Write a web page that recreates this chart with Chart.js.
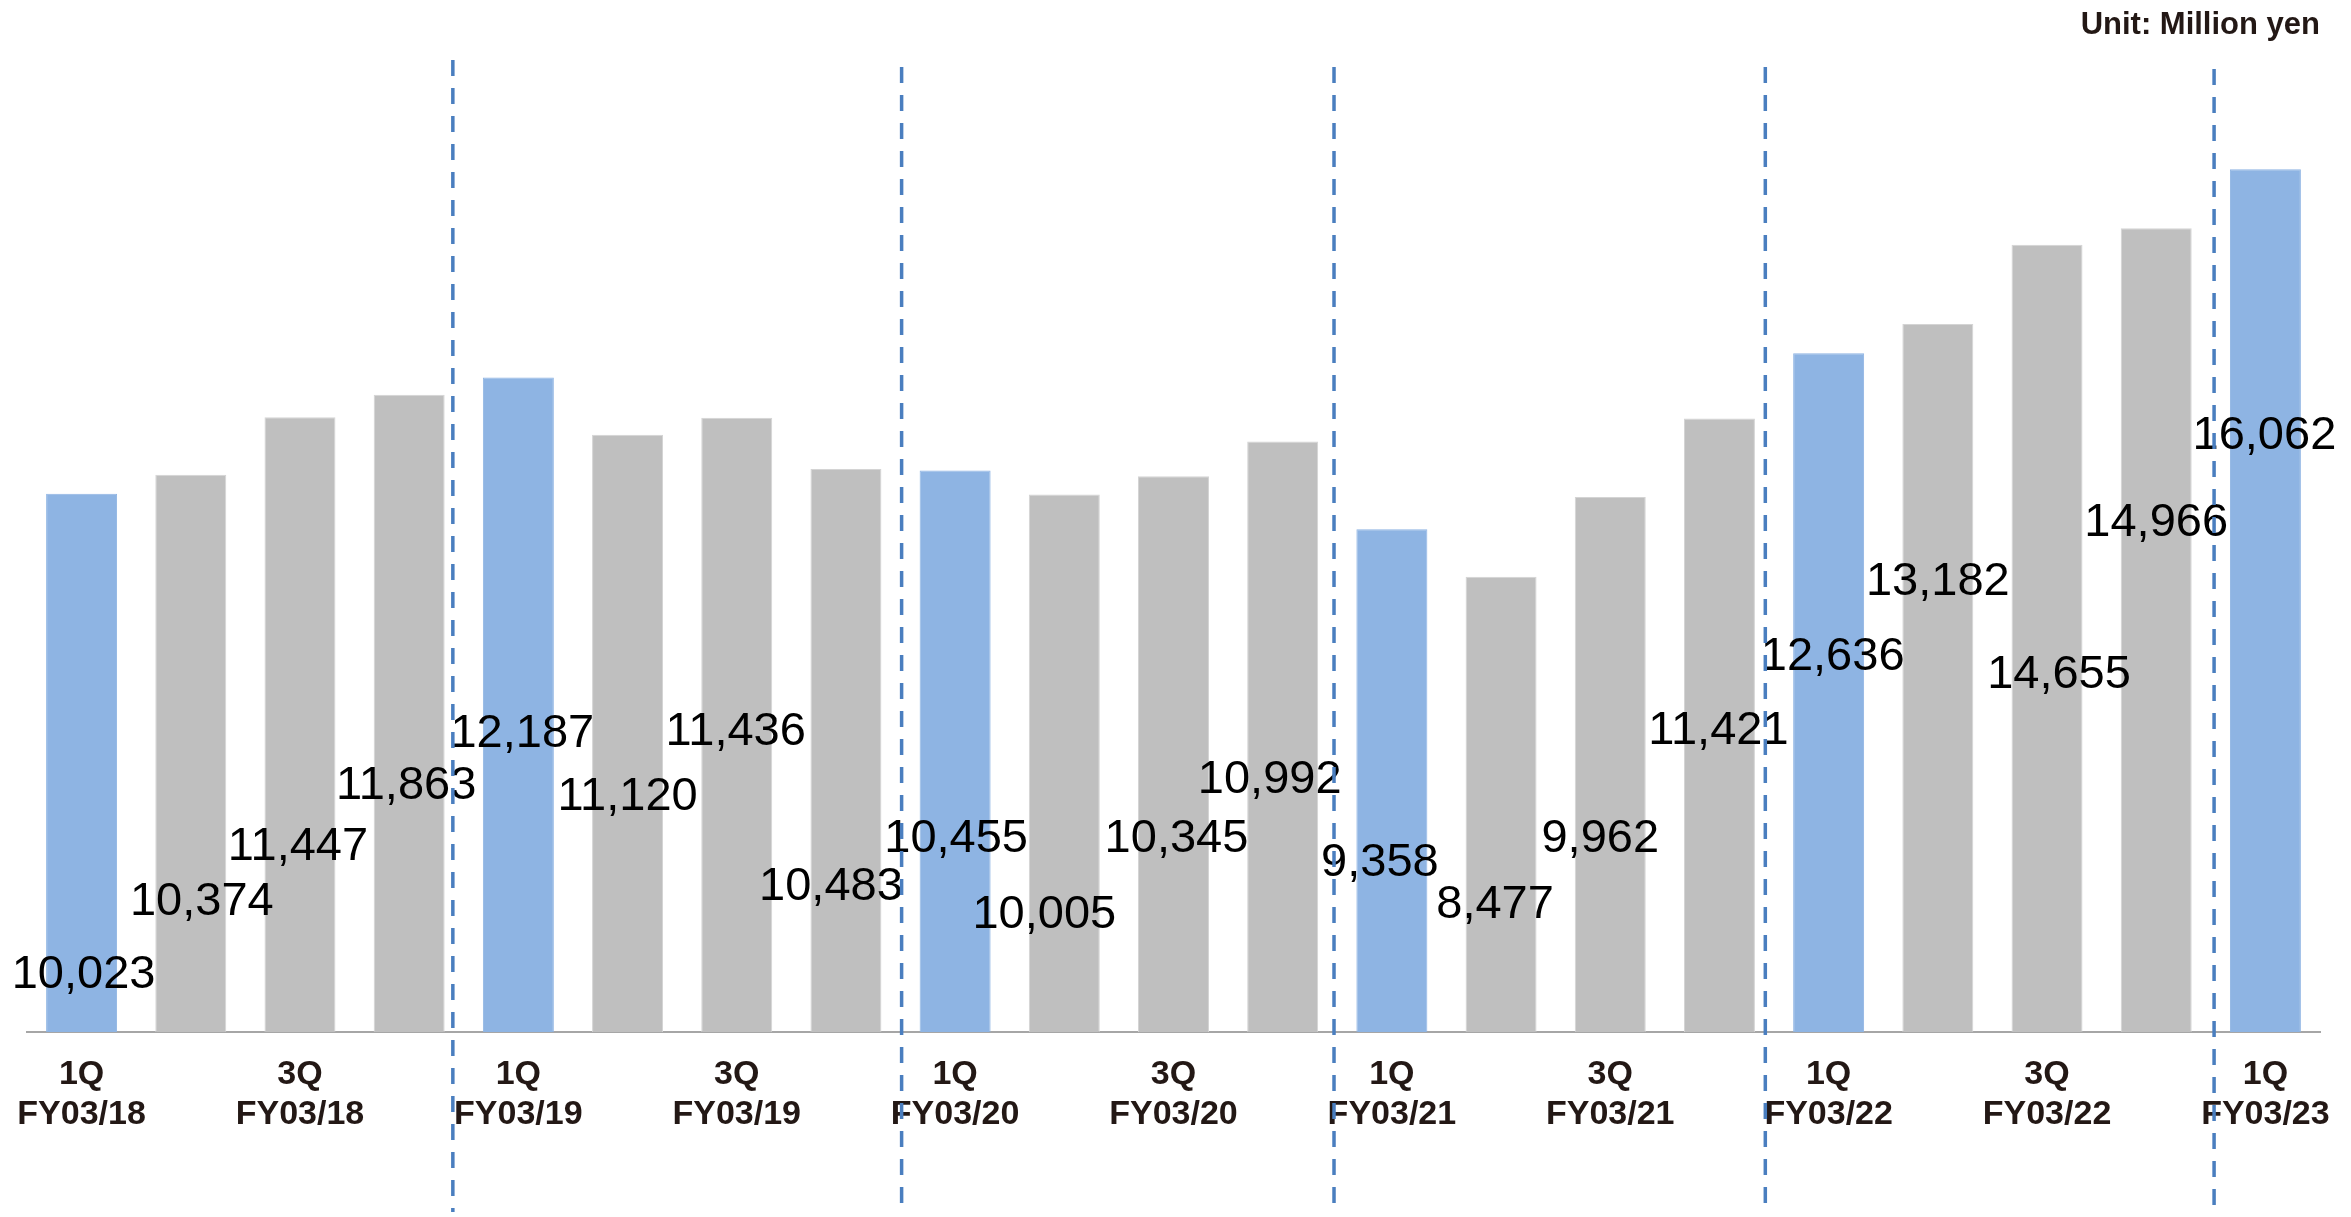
<!DOCTYPE html>
<html>
<head>
<meta charset="utf-8">
<title>Quarterly net sales</title>
<script src="https://cdn.jsdelivr.net/npm/chart.js@4/dist/chart.umd.min.js"></script>
<style>
  html, body { margin: 0; padding: 0; background: #ffffff; }
  #wrap { width: 2351px; height: 1217px; }
</style>
</head>
<body>
<div id="wrap"><canvas id="sales" width="2351" height="1217"></canvas></div>
<script>
// Quarterly net sales, million yen
const periods = [
  '1Q FY03/18', '2Q FY03/18', '3Q FY03/18', '4Q FY03/18',
  '1Q FY03/19', '2Q FY03/19', '3Q FY03/19', '4Q FY03/19',
  '1Q FY03/20', '2Q FY03/20', '3Q FY03/20', '4Q FY03/20',
  '1Q FY03/21', '2Q FY03/21', '3Q FY03/21', '4Q FY03/21',
  '1Q FY03/22', '2Q FY03/22', '3Q FY03/22', '4Q FY03/22',
  '1Q FY03/23'
];

const salesValues = [
  10023, 10374, 11447, 11863,
  12187, 11120, 11436, 10483,
  10455, 10005, 10345, 10992,
  9358, 8477, 9962, 11421,
  12636, 13182, 14655, 14966,
  16062
];

const tickLabels = [
  ['1Q', 'FY03/18'], '', ['3Q', 'FY03/18'], '',
  ['1Q', 'FY03/19'], '', ['3Q', 'FY03/19'], '',
  ['1Q', 'FY03/20'], '', ['3Q', 'FY03/20'], '',
  ['1Q', 'FY03/21'], '', ['3Q', 'FY03/21'], '',
  ['1Q', 'FY03/22'], '', ['3Q', 'FY03/22'], '',
  ['1Q', 'FY03/23']
];

const unitText = 'Unit: Million yen';

// ---- styling / placement ----
const FIRST_Q = '#8eb4e3';
const OTHER_Q = '#bfbfbf';
const barColors = periods.map(p => p.startsWith('1Q') ? FIRST_Q : OTHER_Q);
const barEdges = periods.map(p => p.startsWith('1Q') ? FIRST_Q : '#d4d4d4');

// value label placement: horizontal nudge from bar centre, baseline height above the axis (px)
const labelNudgeX = [2, 11, -2, -3, 4, 0, -1, -15, 1, -20, 3, -13, -12, -6, -10, -1, 4, 0, 12, 0, -1];
const labelLiftY  = [44, 117, 172, 233, 285, 222, 287, 132, 180, 104, 180, 239, 156, 114, 180, 288, 362, 437, 344, 496, 583];

// fiscal-year dividers, in category units on the x scale
const dividers = [
  { at: 3.40, top: 60, bottom: 1212 },
  { at: 7.51, top: 67, bottom: 1205 },
  { at: 11.47, top: 67, bottom: 1205 },
  { at: 15.42, top: 67, bottom: 1205 },
  { at: 19.53, top: 69, bottom: 1205 }
];

const valueLabels = {
  id: 'valueLabels',
  afterDatasetsDraw(chart) {
    const ctx = chart.ctx;
    const meta = chart.getDatasetMeta(0);
    const bottom = chart.chartArea.bottom;
    ctx.save();
    ctx.font = '47px "Liberation Sans", Arial, sans-serif';
    ctx.fillStyle = '#000000';
    ctx.textAlign = 'center';
    ctx.textBaseline = 'alphabetic';
    meta.data.forEach((bar, i) => {
      const txt = salesValues[i].toLocaleString('en-US');
      ctx.fillText(txt, bar.x + labelNudgeX[i], bottom - labelLiftY[i]);
    });
    ctx.restore();
  }
};

const yearDividers = {
  id: 'yearDividers',
  afterDraw(chart) {
    const ctx = chart.ctx;
    const xs = chart.scales.x;
    ctx.save();
    ctx.strokeStyle = '#4a7ebf';
    ctx.lineWidth = 3.5;
    ctx.setLineDash([16, 12]);
    dividers.forEach(d => {
      const x = xs.getPixelForValue(d.at);
      ctx.beginPath();
      ctx.moveTo(x, d.top);
      ctx.lineTo(x, d.bottom);
      ctx.stroke();
    });
    ctx.restore();
  }
};

new Chart(document.getElementById('sales'), {
  type: 'bar',
  data: {
    labels: periods,
    datasets: [{
      data: salesValues,
      backgroundColor: barColors,
      borderColor: barEdges,
      borderWidth: 1,
      barPercentage: 0.65,
      categoryPercentage: 1.0
    }]
  },
  options: {
    responsive: false,
    animation: false,
    devicePixelRatio: 1,
    layout: { padding: { left: 27, right: 31, top: 0, bottom: 59 } },
    plugins: {
      legend: { display: false },
      tooltip: { enabled: false },
      title: {
        display: true,
        text: unitText,
        align: 'end',
        color: '#231815',
        font: { family: '"Liberation Sans", Arial, sans-serif', size: 31, weight: 'bold', lineHeight: 1.2 },
        padding: { top: 7, bottom: 21 }
      }
    },
    scales: {
      x: {
        grid: { display: false, drawTicks: false },
        border: { display: true, color: '#a6a6a6', width: 2 },
        ticks: {
          autoSkip: false,
          maxRotation: 0,
          minRotation: 0,
          padding: 23,
          color: '#231815',
          font: { family: '"Liberation Sans", Arial, sans-serif', size: 34, weight: 'bold', lineHeight: 40 / 34 },
          callback: (value, index) => tickLabels[index]
        },
        afterFit(scale) {
          scale.paddingLeft = 0;
          scale.paddingRight = 0;
        }
      },
      y: {
        display: false,
        min: 0,
        max: 18000
      }
    }
  },
  plugins: [valueLabels, yearDividers]
});
</script>
</body>
</html>
